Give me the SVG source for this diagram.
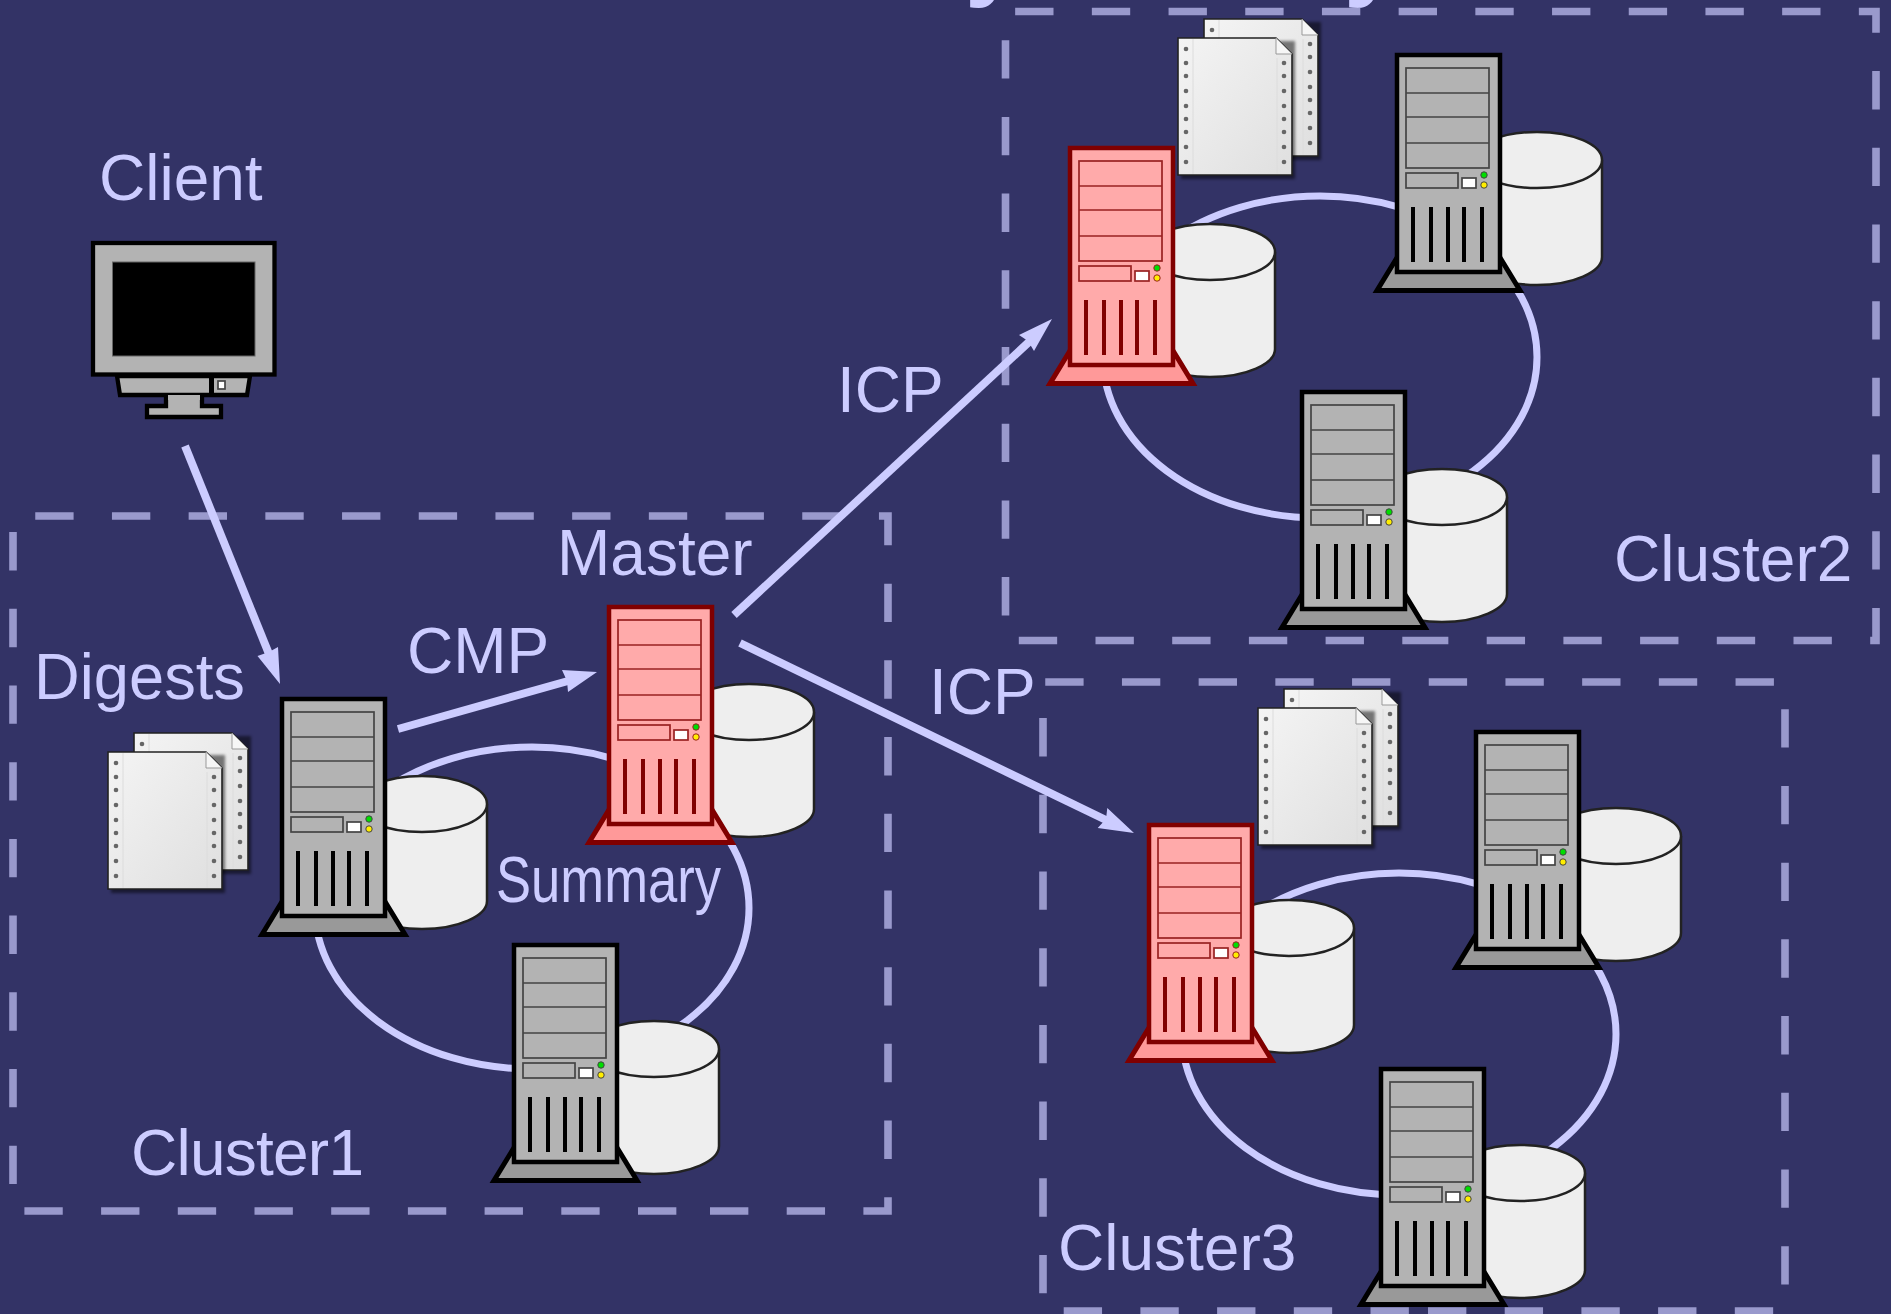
<svg xmlns="http://www.w3.org/2000/svg" xmlns:xlink="http://www.w3.org/1999/xlink" width="1891" height="1314" viewBox="0 0 1891 1314">
<style>
.t{font-family:"Liberation Sans",Arial,sans-serif;font-size:64px;fill:#ccccff}
.title{font-family:"Liberation Sans",Arial,sans-serif;font-size:100px;font-weight:bold;fill:#ccccff}
.ring{fill:none;stroke:#ccccff;stroke-width:7}
.box{fill:none;stroke:#9999cc;stroke-width:7.6;stroke-dasharray:38.35 38.35}
.arrow{fill:none;stroke:#ccccff;stroke-width:8}
.head{fill:#ccccff}
.cyl{fill:#eeeeee;stroke:#222;stroke-width:2.5}
.g{--b:#b3b3b3;--f:#999999;--l:#000000;--t:#444444}
.r{--b:#ffaaaa;--f:#ff9999;--l:#800000;--t:#992222}
.body{fill:var(--b);stroke:var(--l);stroke-width:4.5}
.foot{fill:var(--f);stroke:var(--l);stroke-width:5}
.thin{fill:var(--b);stroke:var(--t);stroke-width:1.7}
.bar{fill:none;stroke:var(--l);stroke-width:4}
.wh{fill:#fff;stroke:var(--t);stroke-width:1.7}
.led{stroke:var(--t);stroke-width:1}
.doc{fill:url(#dg);stroke:#222;stroke-width:1.6}
.fold{fill:#f6f6f6;stroke:#999;stroke-width:1}
.hole{fill:#666}
.sep{stroke:#dcdcdc;stroke-width:1}
.mon{fill:#b3b3b3;stroke:#000;stroke-width:4.3}
</style>
<defs>
<linearGradient id="dg" x1="0" y1="0" x2="1" y2="1"><stop offset="0" stop-color="#f4f4f4"/><stop offset="1" stop-color="#dfdfdf"/></linearGradient>
<filter id="sh" x="-10%" y="-10%" width="125%" height="125%"><feGaussianBlur stdDeviation="1.5"/></filter>
<g id="srv">
<path class="foot" d="M3 203L-18 237.500H125L104 203Z"/>
<rect class="body" x="2" y="2" width="103" height="217"/>
<rect class="thin" x="11" y="15" width="83" height="100"/>
<path class="thin" d="M11 40H94M11 64H94M11 90H94"/>
<rect class="thin" x="11" y="120" width="52" height="15"/>
<rect class="wh" x="67" y="125" width="14" height="10"/>
<circle class="led" cx="89" cy="122" r="3.2" fill="#00dd00"/>
<circle class="led" cx="89" cy="132" r="3.2" fill="#ffee00"/>
<path class="bar" d="M18 154V209M36 154V209M53 154V209M69 154V209M87 154V209"/>
</g>
<g id="cyl">
<path class="cyl" d="M0 28V125C0 140 29 153 65 153S130 140 130 125V28"/>
<ellipse class="cyl" cx="65" cy="28" rx="65" ry="28"/>
</g>
<g id="page">
<rect x="3" y="3" width="114" height="138" fill="#000" opacity=".5" filter="url(#sh)"/>
<path class="doc" d="M0 0H98L114 16V137H0Z"/>
<path class="sep" d="M15 1V136M99 20V136"/>
<path class="fold" d="M98 0L114 16H98Z"/>
<g class="hole"><circle cx="8" cy="11" r="2.300"/><circle cx="8" cy="25" r="2.300"/><circle cx="8" cy="38" r="2.300"/><circle cx="8" cy="53" r="2.300"/><circle cx="8" cy="68" r="2.300"/><circle cx="8" cy="81" r="2.300"/><circle cx="8" cy="94" r="2.300"/><circle cx="8" cy="109" r="2.300"/><circle cx="8" cy="124" r="2.300"/><circle cx="106" cy="25" r="2.300"/><circle cx="106" cy="38" r="2.300"/><circle cx="106" cy="53" r="2.300"/><circle cx="106" cy="68" r="2.300"/><circle cx="106" cy="81" r="2.300"/><circle cx="106" cy="94" r="2.300"/><circle cx="106" cy="109" r="2.300"/><circle cx="106" cy="124" r="2.300"/></g>
</g>
<g id="docs"><use xlink:href="#page" href="#page" x="26" y="-19"/><use xlink:href="#page" href="#page"/></g>
</defs>
<rect width="1891" height="1314" fill="#333366"/>
<text class="title" x="965" y="-13">y</text>
<text class="title" x="1344" y="-13">y</text>
<g id="boxes">
<path class="box" d="M710 1211H888V516H13V1211Z"/>
<path class="box" d="M1410 640.500H1876V11.500H1005.500V640.500Z"/>
<path class="box" d="M1428 1311H1785V682H1043V1311Z"/>
</g>
<g id="rings">
<ellipse class="ring" cx="532" cy="908" rx="217" ry="161"/>
<ellipse class="ring" cx="1320" cy="357" rx="217" ry="161"/>
<ellipse class="ring" cx="1399" cy="1034" rx="217" ry="161"/>
</g>
<g id="cluster1">
<g id="cyl-1a"><use xlink:href="#cyl" href="#cyl" x="357" y="776"/></g>
<g id="cyl-1b"><use xlink:href="#cyl" href="#cyl" x="684" y="684"/></g>
<g id="cyl-1c"><use xlink:href="#cyl" href="#cyl" x="589" y="1021"/></g>
<g id="server-1a" class="g"><use xlink:href="#srv" href="#srv" x="280" y="697"/></g>
<g id="master" class="r"><use xlink:href="#srv" href="#srv" x="607" y="605"/></g>
<g id="server-1c" class="g"><use xlink:href="#srv" href="#srv" x="512" y="943"/></g>
<g id="docs-1"><use xlink:href="#docs" href="#docs" x="108" y="752"/></g>
</g>
<g id="cluster2">
<g id="cyl-2a"><use xlink:href="#cyl" href="#cyl" x="1145" y="224"/></g>
<g id="cyl-2b"><use xlink:href="#cyl" href="#cyl" x="1472" y="132"/></g>
<g id="cyl-2c"><use xlink:href="#cyl" href="#cyl" x="1377" y="469"/></g>
<g id="server-2a" class="r"><use xlink:href="#srv" href="#srv" x="1068" y="146"/></g>
<g id="server-2b" class="g"><use xlink:href="#srv" href="#srv" x="1395" y="53"/></g>
<g id="server-2c" class="g"><use xlink:href="#srv" href="#srv" x="1300" y="390"/></g>
<g id="docs-2"><use xlink:href="#docs" href="#docs" x="1178" y="38"/></g>
</g>
<g id="cluster3">
<g id="cyl-3a"><use xlink:href="#cyl" href="#cyl" x="1224" y="900"/></g>
<g id="cyl-3b"><use xlink:href="#cyl" href="#cyl" x="1551" y="808"/></g>
<g id="cyl-3c"><use xlink:href="#cyl" href="#cyl" x="1455" y="1145"/></g>
<g id="server-3a" class="r"><use xlink:href="#srv" href="#srv" x="1147" y="823"/></g>
<g id="server-3b" class="g"><use xlink:href="#srv" href="#srv" x="1474" y="730"/></g>
<g id="server-3c" class="g"><use xlink:href="#srv" href="#srv" x="1379" y="1067"/></g>
<g id="docs-3"><use xlink:href="#docs" href="#docs" x="1258" y="708"/></g>
</g>
<g id="client">
<path class="mon" d="M117 376L120 395H247L250 376Z"/>
<path class="mon" d="M166 396V406H147V417H221V406H202V396Z"/>
<path d="M168 395H200V400H168Z" fill="#b3b3b3"/>
<rect class="mon" x="93" y="243" width="181.500" height="131.500"/>
<rect x="112.500" y="262" width="142.500" height="94" fill="#000" stroke="#666" stroke-width="1"/>
<rect x="209" y="376" width="5" height="18" fill="#000"/>
<rect x="218" y="381" width="7" height="8" fill="#fff" stroke="#444" stroke-width="1.700"/>
</g>
<g id="connectors">
<path class="arrow" d="M185 446L269 654"/><path class="head" d="M280 684L257.500 656L269 652L278 647Z"/>
<path class="arrow" d="M398 729L568 681"/><path class="head" d="M597 672L562 670L567 681L568 692Z"/>
<path class="arrow" d="M734 615L1030 341"/><path class="head" d="M1052 319L1019 335L1028 341L1034 351Z"/>
<path class="arrow" d="M740 643L1106 820"/><path class="head" d="M1134 833L1097.700 828L1106 819L1107.300 808Z"/>
</g>
<g id="labels">
<text class="t" x="99" y="200">Client</text>
<text class="t" x="34" y="699" textLength="211" lengthAdjust="spacingAndGlyphs">Digests</text>
<text class="t" x="407" y="673">CMP</text>
<text class="t" x="557" y="575">Master</text>
<text class="t" x="837" y="412">ICP</text>
<text class="t" x="929" y="714">ICP</text>
<text class="t" x="496" y="902" textLength="225" lengthAdjust="spacingAndGlyphs">Summary</text>
<text class="t" x="131" y="1175" textLength="233" lengthAdjust="spacing">Cluster1</text>
<text class="t" x="1614" y="581">Cluster2</text>
<text class="t" x="1058" y="1270">Cluster3</text>
</g>
</svg>
